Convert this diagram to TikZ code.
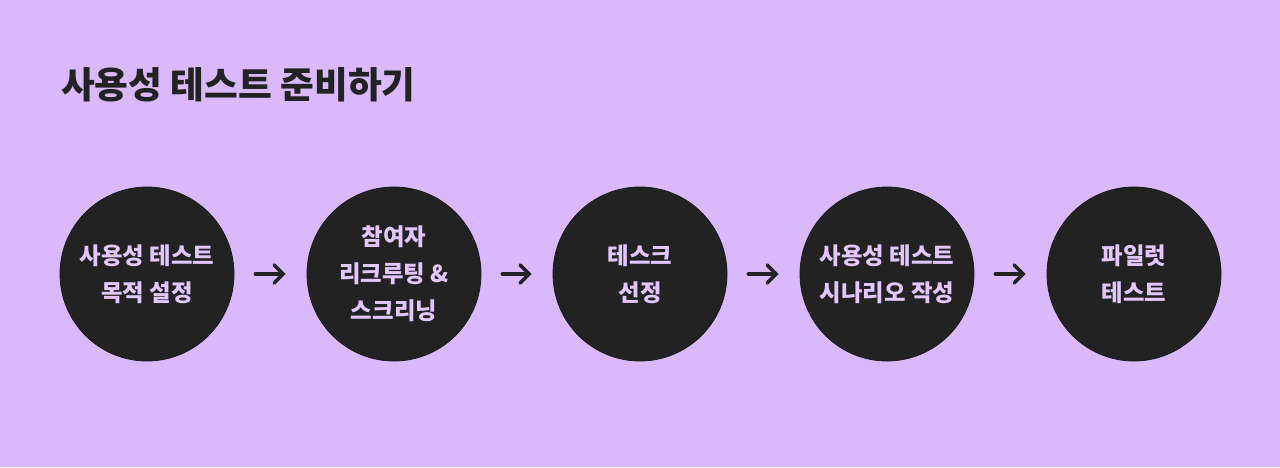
\documentclass[tikz,border=0pt]{standalone}
\usepackage{fontspec}
\setmainfont{Noto Sans CJK KR}
\usetikzlibrary{arrows.meta,positioning}
\definecolor{lavbg}{HTML}{D9B8FC}
\definecolor{disc}{HTML}{222222}
\definecolor{lavtext}{HTML}{E3C6FF}

\begin{document}
\begin{tikzpicture}[x=1pt,y=1pt,
    stage/.style={circle,fill=disc,draw=disc!80!black,line width=0.8pt,minimum size=174pt,
        inner sep=0pt,align=center,text=lavtext,font=\bfseries\fontsize{23.4}{37}\selectfont},
    flow/.style={-{Straight Barb[length=9pt,width=18pt,line cap=round]},line width=3.6pt,
        line cap=round,draw=disc,shorten <=21pt,shorten >=21pt},
    title/.style={font=\bfseries\fontsize{36.7}{40}\selectfont,text=disc,anchor=west,inner sep=0pt}]
\fill[lavbg] (0,0) rectangle (1280,-467);
\useasboundingbox (0,0) rectangle (1280,-467);
\node[title] (head) at (61,-85) {사용성 테스트 준비하기};
\node[stage] (goal) at (147,-274) {사용성 테스트\\목적 설정};
\node[stage] (recruit) at (394,-274) {참여자\\리크루팅 \&\\스크리닝};
\node[stage] (task) at (640,-274) {테스크\\선정};
\node[stage] (scenario) at (887,-274) {사용성 테스트\\시나리오 작성};
\node[stage] (pilot) at (1134,-274) {파일럿\\테스트};
\draw[flow] (goal) -- (recruit);
\draw[flow] (recruit) -- (task);
\draw[flow] (task) -- (scenario);
\draw[flow] (scenario) -- (pilot);
\end{tikzpicture}
\end{document}
